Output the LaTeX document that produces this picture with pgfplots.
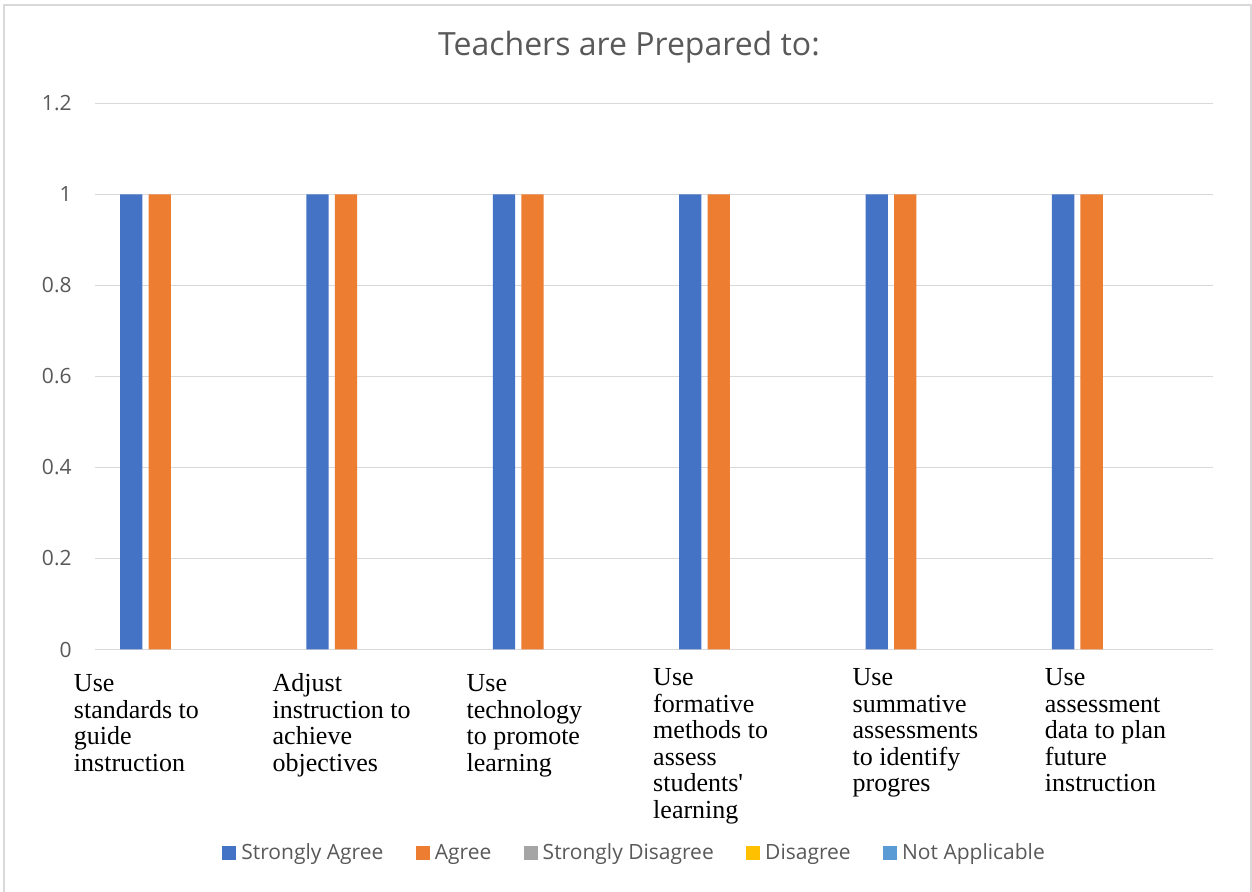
\documentclass[border=0pt]{standalone}
\usepackage{fontspec}
\setmainfont{Open Sans}
\newfontfamily\tnr{Liberation Serif}
\usepackage{pgfplots}
\pgfplotsset{compat=1.18}
\definecolor{cSA}{HTML}{4472C4}
\definecolor{cA}{HTML}{ED7D31}
\definecolor{cSD}{HTML}{A5A5A5}
\definecolor{cD}{HTML}{FFC000}
\definecolor{cNA}{HTML}{5B9BD5}
\definecolor{txtgray}{HTML}{595959}
\definecolor{gridgray}{HTML}{D9D9D9}
\newcommand\lbl[2]{\makebox[0pt][l]{\hspace*{#1}\begin{tabular}[t]{@{}l@{}}#2\end{tabular}}}
\newcommand\lblup[2]{\makebox[0pt][l]{\hspace*{#1}\raisebox{3pt}{\begin{tabular}[t]{@{}l@{}}#2\end{tabular}}}}
\pgfplotsset{lg/.style={legend image code/.code={\fill[fill=#1, fill opacity=1, draw=none] (0pt,-3.5pt) rectangle (7pt,3.5pt);}}}
\begin{document}
\begin{tikzpicture}
\useasboundingbox (0,0) rectangle (626pt,446pt);
\fill[white] (0,0) rectangle (626pt,446pt);
\draw[gridgray, line width=1pt] (1.9pt,-1pt) -- (1.9pt,443.5pt) -- (625.3pt,443.5pt) -- (625.3pt,-1pt);
\node[anchor=base, text=txtgray, font=\fontsize{16}{19}\selectfont] at (314.5pt,418pt) {Teachers are Prepared to:};
\begin{axis}[
  at={(47.5pt,121.25pt)}, anchor=south west,
  scale only axis, width=559.15pt, height=273pt,
  ybar=3.1pt, bar width=11.15pt,
  xmin=-0.5, xmax=5.5, ymin=0, ymax=1.2,
  enlargelimits=false,
  xtick={0,1,2,3,4,5},
  xticklabels={
    {\lbl{-57.1pt}{Use\\standards to\\guide\\instruction}},
    {\lbl{-50.95pt}{Adjust\\instruction to\\achieve\\objectives}},
    {\lbl{-47.15pt}{Use\\technology\\to promote\\learning}},
    {\lblup{-47.05pt}{Use\\formative\\methods to\\assess\\students'\\learning}},
    {\lblup{-40.55pt}{Use\\summative\\assessments\\to identify\\progres}},
    {\lblup{-37.6pt}{Use\\assessment\\data to plan\\future\\instruction}}},
  ytick={0,0.2,0.4,0.6,0.8,1,1.2},
  axis x line=bottom, axis y line=left,
  x axis line style={draw=gridgray, line width=0.75pt, -},
  y axis line style={draw=none},
  major tick length=0pt,
  ymajorgrids, grid style={draw=gridgray, line width=0.75pt},
  /pgf/number format/assume math mode=true,
  xticklabel style={anchor=base, inner sep=0pt, yshift=-21.25pt, font=\tnr\fontsize{13}{13.25}\selectfont, text=black},
  yticklabel style={anchor=east, inner sep=0pt, xshift=-11.5pt, font=\fontsize{10.5}{12}\selectfont, text=txtgray},
  legend columns=5,
  legend style={at={(0.11357,-0.3734)}, anchor=west, draw=none, fill=none, inner sep=0pt,
    font=\fontsize{10.5}{12}\selectfont, text=txtgray,
    nodes={inner sep=0pt},
    /tikz/every odd column/.append style={column sep=2.5pt},
    /tikz/every even column/.append style={column sep=16.2pt}},
]
\addplot[fill=cSA, draw=none, lg=cSA] coordinates {(0,1) (1,1) (2,1) (3,1) (4,1) (5,1)};
\addplot[fill=cA, draw=none, lg=cA] coordinates {(0,1) (1,1) (2,1) (3,1) (4,1) (5,1)};
\addplot[fill=cSD, fill opacity=0, draw=none, lg=cSD] coordinates {(0,0) (1,0) (2,0) (3,0) (4,0) (5,0)};
\addplot[fill=cD, fill opacity=0, draw=none, lg=cD] coordinates {(0,0) (1,0) (2,0) (3,0) (4,0) (5,0)};
\addplot[fill=cNA, fill opacity=0, draw=none, lg=cNA] coordinates {(0,0) (1,0) (2,0) (3,0) (4,0) (5,0)};
\legend{Strongly Agree, Agree, Strongly Disagree, Disagree, Not Applicable}
\end{axis}
\end{tikzpicture}
\end{document}
